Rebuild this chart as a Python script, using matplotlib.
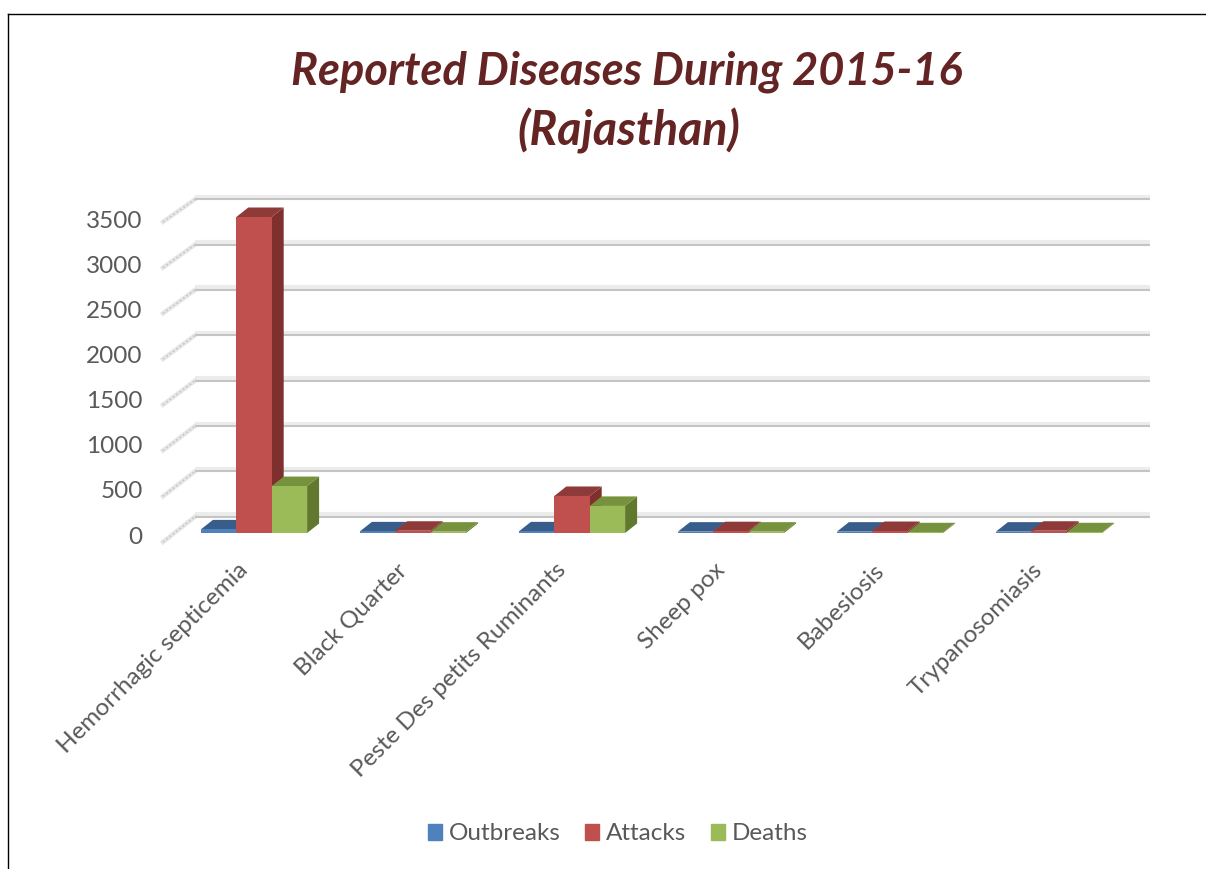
import matplotlib
matplotlib.use("Agg")
import matplotlib.pyplot as plt
from matplotlib.lines import Line2D
from matplotlib.patches import Patch
from matplotlib.transforms import ScaledTranslation

categories = ['Hemorrhagic septicemia', 'Black Quarter', 'Peste Des petits Ruminants',
              'Sheep pox', 'Babesiosis', 'Trypanosomiasis']
outbreaks = [40, 18, 18, 15, 15, 15]
attacks = [3500, 25, 410, 20, 22, 25]
deaths = [520, 15, 300, 15, 8, 8]
y_ticks = [0, 500, 1000, 1500, 2000, 2500, 3000, 3500]

W, H = 1206, 869
plt.rcParams['font.family'] = ['Lato', 'DejaVu Sans']

fig = plt.figure(figsize=(W / 100, H / 100), dpi=100)
ax = fig.add_axes([174.5 / W, (H - 533) / H, 954 / W, 316 / H])
ax.set_xlim(-0.5, 5.5)
ax.set_ylim(0, 3500)

# pixels -> data, the 3d look is only offsets
px_x = 1 / 159
px_y = 3500 / 316
bar_w = 35.4 * px_x
depth_x = 12 * px_x
depth_y = 9.5 * px_y

# back wall gridlines and the hatched side wall
for t in y_ticks:
    xs = [-0.5 + 20.5 * px_x, 5.5 + 21.5 * px_x]
    yb = t * 1.0045 + 17.3 * px_y
    ax.plot(xs, [yb + 1.5 * px_y] * 2, color='#ececec', lw=3, clip_on=False, zorder=1, solid_capstyle='butt')
    ax.plot(xs, [yb - 1 * px_y] * 2, color='#c4c4c4', lw=1.5, clip_on=False, zorder=1.1, solid_capstyle='butt')
    sx = [-0.5 - 11.5 * px_x, -0.5 + 20.5 * px_x]
    sy = [t * 1.013 - 9 * px_y, yb - 1 * px_y]
    ax.plot(sx, sy, color='#e6e6e6', lw=3.2, clip_on=False, zorder=1)
    ax.plot(sx, sy, color='#c6c6c6', lw=1.2, ls=(0, (1, 1.5)), clip_on=False, zorder=1.1)

series = [('Outbreaks', outbreaks, '#4f81bd', '#3b6491', '#385d8a'),
          ('Attacks', attacks, '#c0504d', '#7f2f2d', '#8e3a38'),
          ('Deaths', deaths, '#9bbb59', '#63782f', '#76923c')]

z = 2
for i in range(len(categories)):
    for j, (name, vals, front, side, top) in enumerate(series):
        x0 = i + (j - 1.5) * bar_w
        x1 = x0 + bar_w
        v = vals[i]
        ax.fill([x1, x1 + depth_x, x1 + depth_x, x1], [0, depth_y, v + depth_y, v],
                color=side, lw=0, clip_on=False, zorder=z)
        ax.fill([x0, x1, x1 + depth_x, x0 + depth_x], [v, v, v + depth_y, v + depth_y],
                color=top, lw=0, clip_on=False, zorder=z)
        ax.bar(x0, v, width=bar_w, align='edge', color=front, lw=0, clip_on=False, zorder=z)
        z += 0.01

for s in ax.spines.values():
    s.set_visible(False)
ax.patch.set_visible(False)
ax.set_yticks(y_ticks)
ax.set_xticks(range(len(categories)))
ax.set_xticklabels(categories, rotation=45, ha='right', va='top', rotation_mode='anchor')
ax.tick_params(axis='y', length=0, pad=23, labelsize=17.5, labelcolor='#595959')
ax.tick_params(axis='x', length=0, pad=19, labelsize=17.5, labelcolor='#595959')

# labels sit a little off where the axis puts them
for lab in ax.get_xticklabels():
    lab.set_transform(lab.get_transform() + ScaledTranslation(-17 / 100, 0, fig.dpi_scale_trans))
for lab in ax.get_yticklabels():
    lab.set_transform(lab.get_transform() + ScaledTranslation(0, -2 / 100, fig.dpi_scale_trans))

fig.text(627 / W, 1 - 72 / H, 'Reported Diseases During 2015-16', ha='center', va='center',
         fontsize=32.5, fontweight='bold', fontstyle='italic', color='#632423')
fig.text(629 / W, 1 - 131 / H, '(Rajasthan)', ha='center', va='center',
         fontsize=33.5, fontweight='bold', fontstyle='italic', color='#632423')

handles = [Patch(color=s[2], label=s[0]) for s in series]
fig.legend(handles=handles, loc='center', bbox_to_anchor=(618 / W, 1 - 834 / H), ncol=3, frameon=False,
           fontsize=17.5, labelcolor='#595959', handlelength=0.58, handleheight=0.62,
           handletextpad=0.28, columnspacing=1.0, borderpad=0)

# frame of the pasted picture
fig.add_artist(Line2D([8 / W, 8 / W], [0, 1 - 14 / H], color='black', lw=1))
fig.add_artist(Line2D([8 / W, 1], [1 - 14 / H, 1 - 14 / H], color='black', lw=1))

fig.savefig('out.png', dpi=100)
